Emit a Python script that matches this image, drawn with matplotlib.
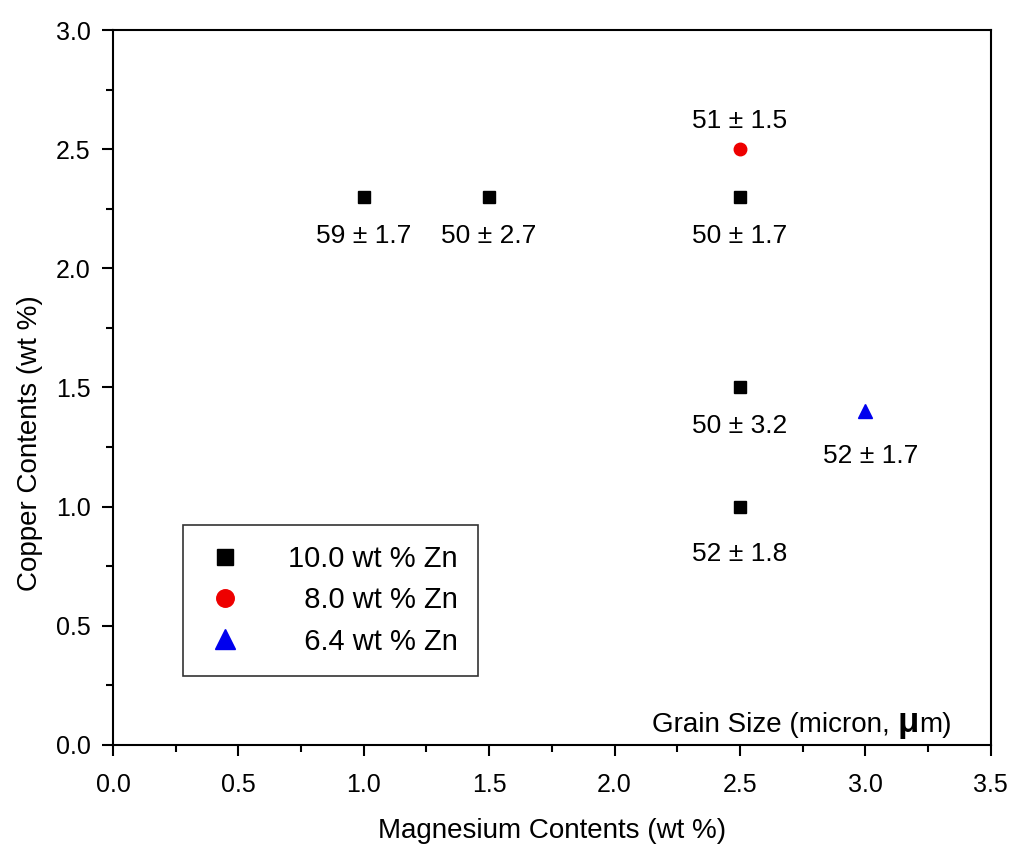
import matplotlib.pyplot as plt
from matplotlib.ticker import MultipleLocator

plt.rcParams['font.family'] = ['Liberation Sans', 'DejaVu Sans']

# 10.0 wt % Zn
mg_10 = [1.0, 1.5, 2.5, 2.5, 2.5]
cu_10 = [2.3, 2.3, 2.3, 1.5, 1.0]
gs_10 = ['59 ± 1.7', '50 ± 2.7', '50 ± 1.7', '50 ± 3.2', '52 ± 1.8']
# 8.0 wt % Zn
mg_8 = [2.5]
cu_8 = [2.5]
gs_8 = ['51 ± 1.5']
# 6.4 wt % Zn
mg_6 = [3.0]
cu_6 = [1.4]
gs_6 = ['52 ± 1.7']

fig = plt.figure(figsize=(10.13, 8.48), dpi=100)
ax = fig.add_axes([0.1115, 0.1215, 0.8665, 0.8431])

ax.plot(mg_10, cu_10, 's', color='black', ms=8, label='10.0 wt % Zn')
ax.plot(mg_8, cu_8, 'o', color='#ee0000', ms=9, label='  8.0 wt % Zn')
ax.plot(mg_6, cu_6, '^', color='#0000ee', ms=10, label='  6.4 wt % Zn')

fs = 19
for x, y, t in zip(mg_10, cu_10, gs_10):
    ax.annotate(t, (x, y), xytext=(0, -28 if y > 1.2 else -34), textcoords='offset points',
                ha='center', va='center', fontsize=fs)
for x, y, t in zip(mg_8, cu_8, gs_8):
    ax.annotate(t, (x, y), xytext=(0, 20), textcoords='offset points',
                ha='center', va='center', fontsize=fs)
for x, y, t in zip(mg_6, cu_6, gs_6):
    ax.annotate(t, (x, y), xytext=(4, -32), textcoords='offset points',
                ha='center', va='center', fontsize=fs)

ax.set_xlim(0, 3.5)
ax.set_ylim(0, 3.0)
ax.xaxis.set_major_locator(MultipleLocator(0.5))
ax.xaxis.set_minor_locator(MultipleLocator(0.25))
ax.yaxis.set_major_locator(MultipleLocator(0.5))
ax.yaxis.set_minor_locator(MultipleLocator(0.25))
ax.xaxis.set_major_formatter(lambda v, p: f'{v:.1f}')
ax.yaxis.set_major_formatter(lambda v, p: f'{v:.1f}')
ax.tick_params(which='both', direction='out', width=1.5, labelsize=18, top=False, right=False)
ax.tick_params(which='major', length=8)
ax.tick_params(which='minor', length=5)
ax.tick_params(axis='x', which='major', pad=12)
ax.tick_params(axis='y', which='major', pad=8)
for sp in ax.spines.values():
    sp.set_linewidth(1.5)

ax.set_xlabel('Magnesium Contents (wt %)', fontsize=20, va='center')
ax.xaxis.set_label_coords(0.5, -0.12)
ax.set_ylabel('Copper Contents (wt %)', fontsize=20, va='center')
ax.yaxis.set_label_coords(-0.094, 0.422)

ax.text(0.894, 0.018, 'Grain Size (micron, ', transform=ax.transAxes, ha='right', va='baseline', fontsize=20)
ax.text(0.894, 0.018, 'μ', transform=ax.transAxes, ha='left', va='baseline', fontsize=25, fontweight='bold')
ax.text(0.919, 0.018, 'm)', transform=ax.transAxes, ha='left', va='baseline', fontsize=20)

leg = ax.legend(loc='lower left', bbox_to_anchor=(0.0797, 0.0965), fontsize=21, frameon=True,
                fancybox=False, edgecolor='black', handletextpad=1.4, borderpad=0.7,
                labelspacing=0.45, handlelength=1.5, markerscale=1.4, borderaxespad=0)
leg.get_frame().set_linewidth(1.2)

fig.savefig('out.png', dpi=100)
